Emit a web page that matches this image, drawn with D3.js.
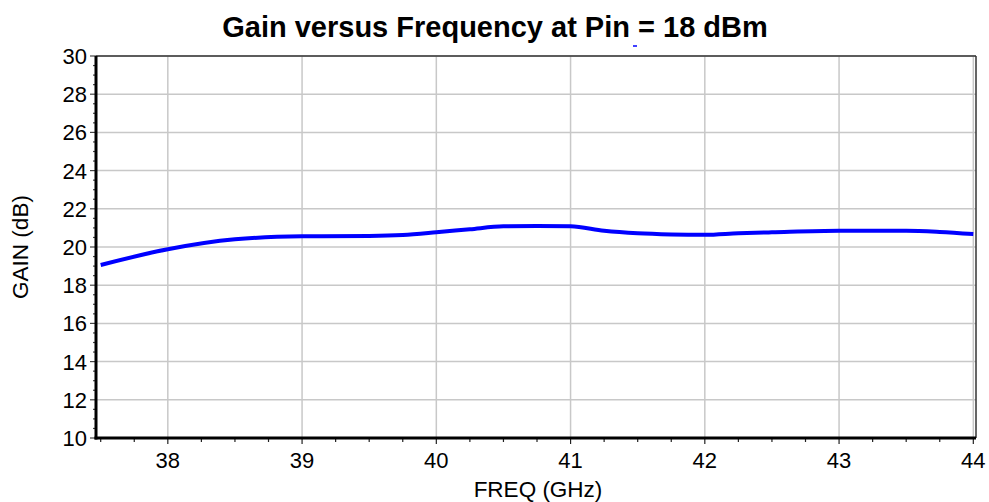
<!DOCTYPE html>
<html>
<head>
<meta charset="utf-8">
<script src="https://cdn.jsdelivr.net/npm/d3@7"></script>
<style>
body{margin:0;background:#fff;}
text{font-family:"Liberation Sans",Arial,sans-serif;}
</style>
</head>
<body>
<svg width="989" height="502"></svg>
<script>
// gain curve
var freq = [37.5, 38, 38.5, 39, 39.5, 39.75, 40, 40.25, 40.5, 40.75, 41, 41.25, 41.5, 41.75, 42, 42.25, 42.5, 43, 43.5, 43.75, 44];
var gain = [19.06, 19.88, 20.4, 20.56, 20.58, 20.63, 20.77, 20.93, 21.08, 21.1, 21.08, 20.85, 20.72, 20.66, 20.64, 20.72, 20.77, 20.85, 20.85, 20.79, 20.68];
var xTicks = [38, 39, 40, 41, 42, 43, 44];
var yTicks = [10, 12, 14, 16, 18, 20, 22, 24, 26, 28, 30];

var svg = d3.select('svg');
var L = 96, R = 976, T = 56, B = 438;

var x = d3.scaleLinear().domain([37.465, 44.02]).range([L, R]);
var y = d3.scaleLinear().domain([10, 30]).range([B, T]);

// grid
svg.append('g').selectAll('line').data(xTicks).enter().append('line')
  .attr('x1', d => x(d)).attr('x2', d => x(d)).attr('y1', T).attr('y2', B)
  .attr('stroke', '#c8c8c8').attr('stroke-width', 1.5);
svg.append('g').selectAll('line').data(yTicks).enter().append('line')
  .attr('x1', L).attr('x2', R).attr('y1', d => y(d)).attr('y2', d => y(d))
  .attr('stroke', '#c8c8c8').attr('stroke-width', 1.5);

// frame top/right
svg.append('line').attr('x1', L).attr('x2', R).attr('y1', T).attr('y2', T).attr('stroke', '#333').attr('stroke-width', 1.5);
svg.append('line').attr('x1', R).attr('x2', R).attr('y1', T).attr('y2', B).attr('stroke', '#333').attr('stroke-width', 1.5);

// minor ticks
var xMinor = d3.range(37.5, 44.01, 0.25);
svg.append('g').selectAll('line').data(xMinor).enter().append('line')
  .attr('x1', d => x(d)).attr('x2', d => x(d)).attr('y1', B).attr('y2', d => B + (Math.abs(d - Math.round(d)) < 0.01 ? 6 : 4))
  .attr('stroke', '#222').attr('stroke-width', 1.2);
var yMinor = d3.range(10, 30.01, 0.5);
svg.append('g').selectAll('line').data(yMinor).enter().append('line')
  .attr('y1', d => y(d)).attr('y2', d => y(d)).attr('x1', L).attr('x2', d => L - (d % 2 === 0 ? 6 : 3))
  .attr('stroke', '#444').attr('stroke-width', 1.2);

// thick left/bottom axes
svg.append('line').attr('x1', L).attr('x2', L).attr('y1', T).attr('y2', B + 1.5).attr('stroke', '#000').attr('stroke-width', 3);
svg.append('line').attr('x1', L - 1.5).attr('x2', R).attr('y1', B).attr('y2', B).attr('stroke', '#000').attr('stroke-width', 3);

// tick labels
svg.append('g').selectAll('text').data(xTicks).enter().append('text')
  .attr('x', d => x(d)).attr('y', 468).attr('text-anchor', 'middle')
  .attr('font-size', 22).text(d => d);
svg.append('g').selectAll('text').data(yTicks).enter().append('text')
  .attr('x', 87).attr('y', d => y(d) + 8).attr('text-anchor', 'end')
  .attr('font-size', 22).text(d => d);

// curve
var line = d3.line().x((d, i) => x(freq[i])).y(d => y(d)).curve(d3.curveMonotoneX);
svg.append('path').datum(gain).attr('d', line)
  .attr('fill', 'none').attr('stroke', '#0000ff').attr('stroke-width', 4);

// small blue artifact below title
svg.append('line').attr('x1', 633).attr('x2', 637).attr('y1', 46).attr('y2', 46).attr('stroke', '#0000ff').attr('stroke-width', 1.5);

// titles
svg.append('text').attr('x', 495).attr('y', 37).attr('text-anchor', 'middle')
  .attr('font-size', 29).attr('font-weight', 'bold').text('Gain versus Frequency at Pin = 18 dBm');
svg.append('text').attr('x', 538).attr('y', 497).attr('text-anchor', 'middle')
  .attr('font-size', 22.5).text('FREQ (GHz)');
svg.append('text').attr('transform', 'translate(28,247) rotate(-90)').attr('text-anchor', 'middle')
  .attr('font-size', 22.5).text('GAIN (dB)');
</script>
</body>
</html>
